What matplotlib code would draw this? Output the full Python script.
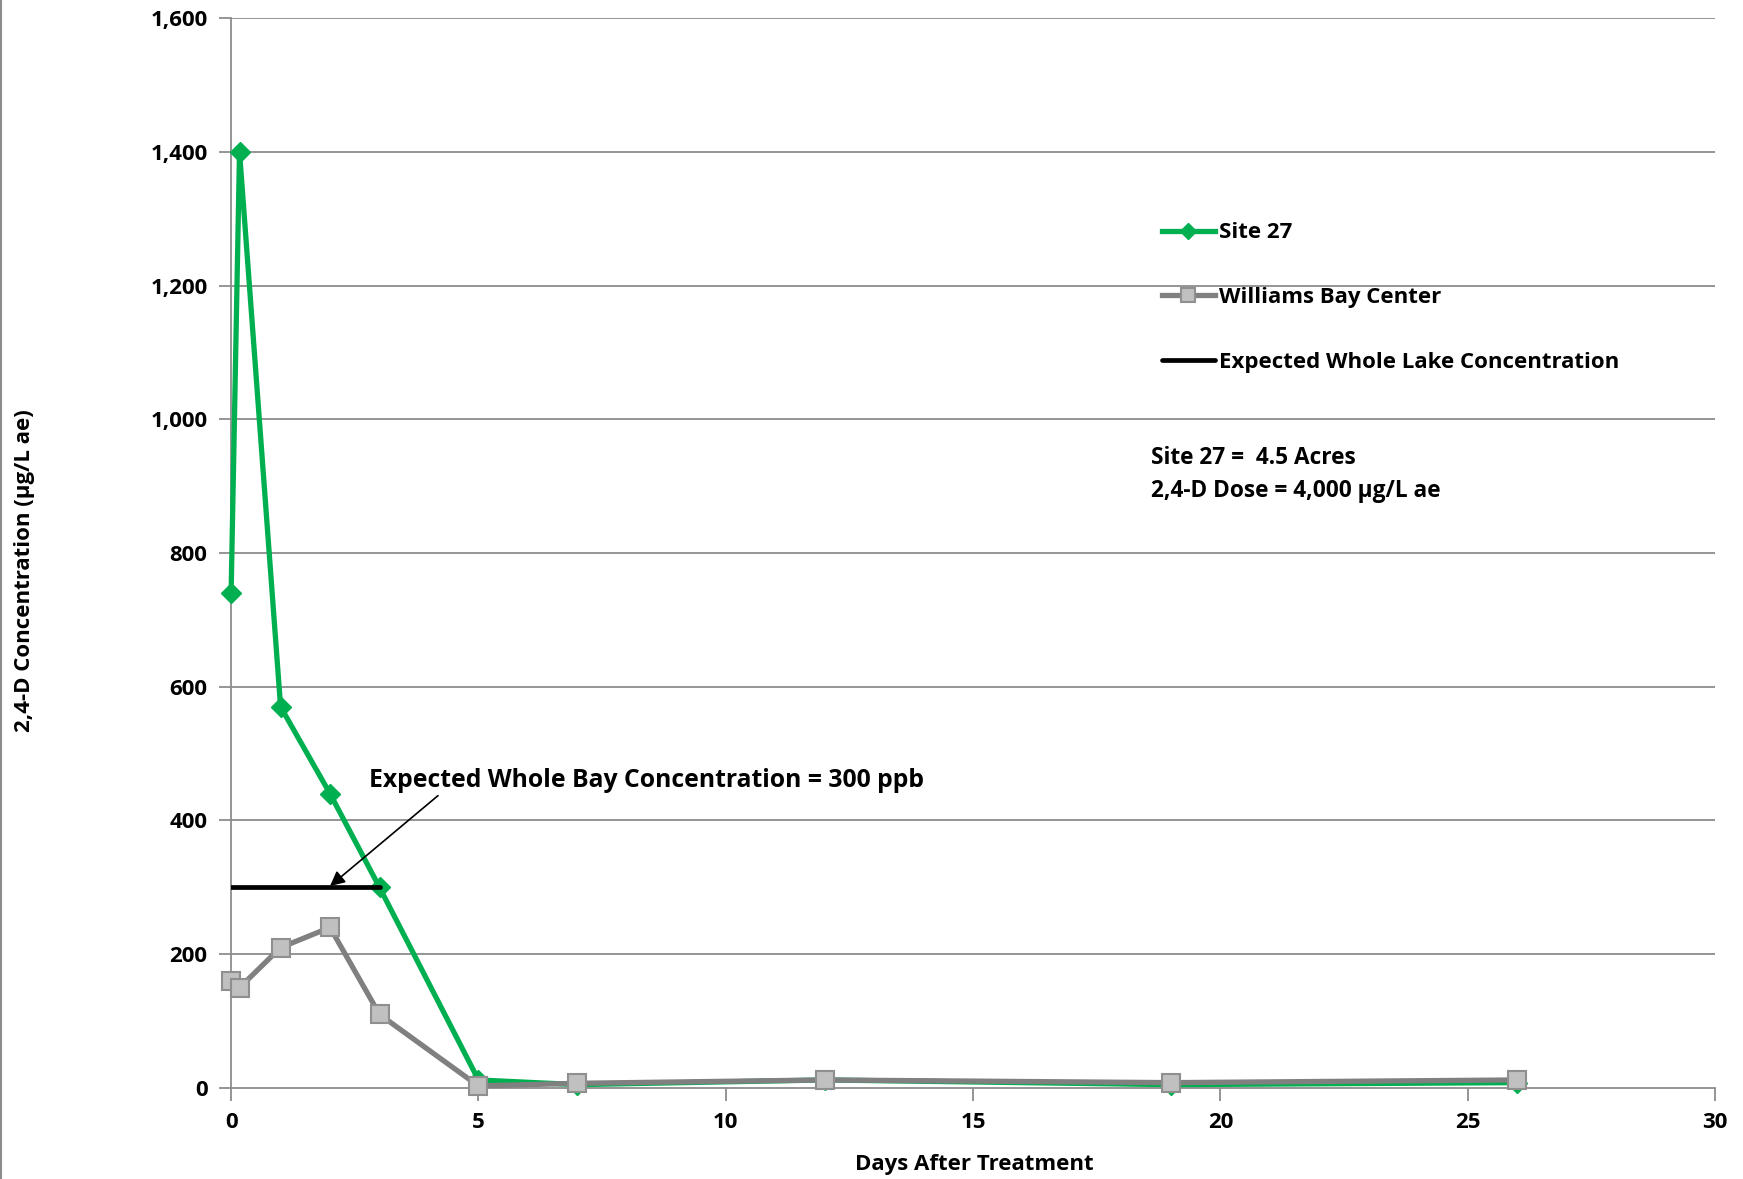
import matplotlib
matplotlib.use("Agg")
import matplotlib.pyplot as plt
from matplotlib.lines import Line2D
from matplotlib.ticker import FuncFormatter

plt.rcParams['font.family'] = ['Open Sans', 'DejaVu Sans']
plt.rcParams['font.weight'] = 'bold'

# data
days = [0, 0.17, 1, 2, 3, 5, 7, 12, 19, 26]
site27 = [740, 1400, 570, 440, 300, 12, 5, 12, 5, 8]
williams_bay = [160, 150, 210, 240, 110, 3, 7, 12, 8, 12]
expected_days = [0, 3]
expected_conc = [300, 300]

x_ticks = [0, 5, 10, 15, 20, 25, 30]
y_ticks = [0, 200, 400, 600, 800, 1000, 1200, 1400, 1600]

green = '#00B050'
grey = '#808080'

fig = plt.figure(figsize=(17.43, 11.79), dpi=100)
ax = fig.add_axes([0.1326, 0.0772, 0.8514, 0.9075])

# gridlines behind data
for yv in y_ticks[1:]:
    ax.axhline(yv, color='#8c8c8c', lw=1.3, zorder=0)

ax.plot(days, site27, color=green, lw=3.8, marker='D', ms=10,
        mfc=green, mec=green, label='Site 27', zorder=3, clip_on=False)
ax.plot(days, williams_bay, color=grey, lw=3.8, marker='s', ms=13,
        mfc='#c0c0c0', mec='#8f8f8f', mew=1.5, label='Williams Bay Center',
        zorder=4, clip_on=False)
ax.plot(expected_days, expected_conc, color='black', lw=3.4,
        solid_capstyle='round', label='Expected Whole Lake Concentration', zorder=5)

ax.set_xlim(0, 30)
ax.set_ylim(0, 1600)
ax.set_xticks(x_ticks)
ax.set_yticks(y_ticks)
ax.yaxis.set_major_formatter(FuncFormatter(lambda v, p: f'{int(v):,}'))

ax.spines['right'].set_color('none')
ax.spines['top'].set_color('none')
ax.spines['left'].set_color('#8c8c8c')
ax.spines['bottom'].set_color('#8c8c8c')
ax.spines['left'].set_linewidth(1.3)
ax.spines['bottom'].set_linewidth(1.3)
ax.tick_params(axis='both', color='#8c8c8c', width=1.3, length=9,
               labelsize=16, pad=8)
for lbl in ax.get_xticklabels() + ax.get_yticklabels():
    lbl.set_fontweight('bold')

ax.legend(loc='upper left', bbox_to_anchor=(0.627, 0.809), frameon=False,
          handlelength=2.4, handletextpad=0.2, markerscale=0.8,
          labelspacing=1.97, borderpad=0, borderaxespad=0,
          prop={'weight': 'bold', 'size': 16})

ax.text(18.6, 942, 'Site 27 =  4.5 Acres', fontsize=16.3, fontweight='bold',
        va='center', ha='left')
ax.text(18.6, 892, '2,4-D Dose = 4,000 µg/L ae', fontsize=16.3, fontweight='bold',
        va='center', ha='left')

ax.annotate('Expected Whole Bay Concentration = 300 ppb', xy=(2.0, 302),
            xytext=(2.79, 460), fontsize=17.8, fontweight='bold',
            va='center', ha='left',
            arrowprops=dict(arrowstyle='-|>', color='black', lw=1.2,
                            mutation_scale=22, shrinkA=0, shrinkB=0,
                            relpos=(0.13, 0.0)))

fig.text(0.014, 0.516, '2,4-D Concentration (µg/L ae)', rotation=90,
         fontsize=16, fontweight='bold', ha='center', va='center')
fig.text(0.559, 0.0127, 'Days After Treatment', fontsize=16,
         fontweight='bold', ha='center', va='center')

# thin border on the left edge of the picture
fig.add_artist(Line2D([0.0008, 0.0008], [0, 1], color='#8c8c8c', lw=1.5,
                      transform=fig.transFigure))

fig.savefig('out.png', dpi=100)
